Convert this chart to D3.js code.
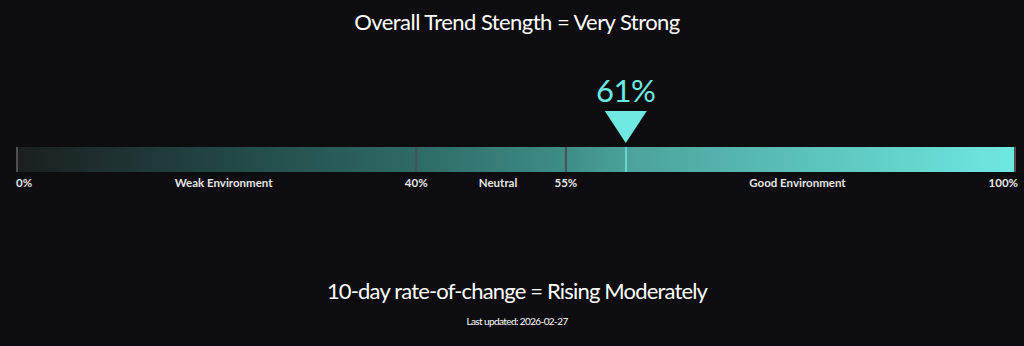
<!DOCTYPE html>
<html>
<head>
<meta charset="utf-8">
<script src="https://cdn.jsdelivr.net/npm/d3@7"></script>
<style>
  html, body { margin: 0; padding: 0; background: #0d0d0f; }
  svg { display: block; }
  text { font-family: Lato, "Open Sans", sans-serif; }
</style>
</head>
<body>
<svg id="chart" width="1024" height="346"></svg>
<script>
// Gauge data
const title = "Overall Trend Stength = Very Strong";
const subtitle = "10-day rate-of-change = Rising Moderately";
const updated = "Last updated: 2026-02-27";
const currentValue = 61;
const thresholds = [0, 40, 55, 100];
const thresholdLabels = ["0%", "40%", "55%", "100%"];
const zoneNames = ["Weak Environment", "Neutral", "Good Environment"];
const gradientStops = [
  { at: 0, color: "#1b1e1f" },
  { at: 20, color: "#214543" },
  { at: 40, color: "#2e6a66" },
  { at: 55, color: "#3e8d87" },
  { at: 61, color: "#4aa29b" },
  { at: 100, color: "#6ee8e0" }
];

const W = 1024, H = 346;
const cx = 517;
const barTop = 147, barH = 25;

const svg = d3.select("#chart");
svg.append("rect").attr("width", W).attr("height", H).attr("fill", "#0d0d0f");

const x = d3.scaleLinear().domain([0, 100]).range([17, 1015]);

// Gradient fill across the full bar
const defs = svg.append("defs");
const grad = defs.append("linearGradient")
  .attr("id", "barGrad")
  .attr("gradientUnits", "userSpaceOnUse")
  .attr("x1", x(0)).attr("x2", x(100)).attr("y1", 0).attr("y2", 0);
grad.selectAll("stop").data(gradientStops).join("stop")
  .attr("offset", d => d.at + "%")
  .attr("stop-color", d => d.color);

svg.append("rect")
  .attr("x", x(0)).attr("y", barTop)
  .attr("width", x(100) - x(0)).attr("height", barH)
  .attr("fill", "url(#barGrad)");

// Threshold dividers
svg.selectAll("rect.divider").data(thresholds).join("rect")
  .attr("class", "divider")
  .attr("x", d => x(d) - 1).attr("y", barTop)
  .attr("width", 2).attr("height", barH)
  .attr("fill", "#4d4f51");

// Current value line
svg.append("rect")
  .attr("x", x(currentValue) - 0.5).attr("y", barTop)
  .attr("width", 1.5).attr("height", barH)
  .attr("fill", "#72e8e0");

// Marker triangle and value
const mx = x(currentValue);
svg.append("path")
  .attr("d", `M${mx - 21},111 L${mx + 21},111 L${mx},143 Z`)
  .attr("fill", "#6ee8e0");
svg.append("text")
  .attr("x", mx).attr("y", 102)
  .attr("text-anchor", "middle")
  .attr("font-size", 31)
  .attr("letter-spacing", -0.5)
  .attr("fill", "#6ee8e0")
  .text(currentValue + "%");

// Threshold labels
svg.selectAll("text.tick").data(thresholds).join("text")
  .attr("class", "tick")
  .attr("x", (d, i) => i === 0 ? x(d) - 1 : i === thresholds.length - 1 ? x(d) + 3 : x(d))
  .attr("y", 187)
  .attr("text-anchor", (d, i) => i === 0 ? "start" : i === thresholds.length - 1 ? "end" : "middle")
  .attr("font-size", 11.5)
  .attr("font-weight", 700)
  .attr("fill", "#e6e6e6")
  .text((d, i) => thresholdLabels[i]);

// Zone names
svg.selectAll("text.zone").data(zoneNames).join("text")
  .attr("class", "zone")
  .attr("x", (d, i) => (x(thresholds[i]) + x(thresholds[i + 1])) / 2 + 7)
  .attr("y", 187)
  .attr("text-anchor", "middle")
  .attr("font-size", 11.5)
  .attr("font-weight", 700)
  .attr("fill", "#e6e6e6")
  .text(d => d);

// Headline texts
svg.append("text")
  .attr("x", cx).attr("y", 30)
  .attr("text-anchor", "middle")
  .attr("font-size", 22)
  .attr("letter-spacing", -0.55)
  .attr("fill", "#ffffff")
  .text(title);

svg.append("text")
  .attr("x", cx).attr("y", 299)
  .attr("text-anchor", "middle")
  .attr("font-size", 22)
  .attr("letter-spacing", -0.83)
  .attr("fill", "#ffffff")
  .text(subtitle);

svg.append("text")
  .attr("x", cx).attr("y", 325)
  .attr("text-anchor", "middle")
  .attr("font-size", 10)
  .attr("letter-spacing", -0.6)
  .attr("fill", "#ffffff")
  .text(updated);
</script>
</body>
</html>
